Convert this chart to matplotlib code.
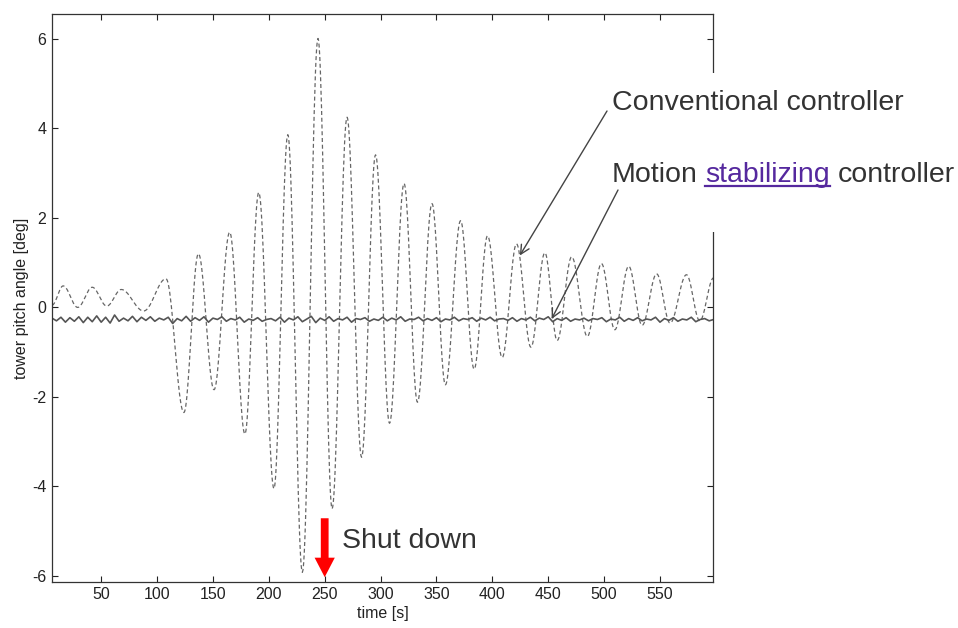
import numpy as np
import matplotlib.pyplot as plt
from matplotlib.patches import Rectangle, FancyArrowPatch
from matplotlib.lines import Line2D

plt.rcParams['font.family'] = ['Liberation Sans', 'DejaVu Sans']
plt.rcParams['axes.unicode_minus'] = False

# conventional controller: turning points of the oscillation (time [s], angle [deg])
conv_t = [6, 16, 29, 42, 55, 68, 88, 108, 124, 137, 151, 165, 178.6, 191, 204.6,
          217, 230, 244, 256.6, 270, 283, 295.5, 308, 321, 333, 346, 358, 371.6,
          383.7, 395.7, 408.8, 421.6, 434.5, 447, 458, 471, 485, 497.6, 509.6,
          522, 534, 547, 559, 573.7, 585.6, 598]
conv_v = [0.05, 0.48, 0.0, 0.45, 0.03, 0.40, -0.08, 0.64, -2.35, 1.20, -1.84, 1.68,
          -2.83, 2.57, -4.05, 3.86, -5.92, 6.01, -4.50, 4.25, -3.35, 3.41, -2.59,
          2.77, -2.12, 2.32, -1.73, 1.94, -1.38, 1.60, -1.12, 1.42, -0.89, 1.22,
          -0.74, 1.13, -0.65, 0.98, -0.50, 0.92, -0.40, 0.75, -0.35, 0.73, -0.30,
          0.66]

# motion stabilizing controller, read every 4 s from t=6 to t=598
stab_t = np.arange(6, 599, 4)
stab_v = [-0.24, -0.30, -0.22, -0.33, -0.23, -0.31, -0.21, -0.34, -0.22, -0.32,
          -0.19, -0.33, -0.22, -0.35, -0.17, -0.31, -0.24, -0.30, -0.20,
          -0.32, -0.22, -0.29, -0.21, -0.31, -0.24, -0.28, -0.22, -0.36, -0.25,
          -0.30, -0.20, -0.31, -0.23, -0.29, -0.21, -0.33, -0.24, -0.27,
          -0.21, -0.31, -0.25, -0.28, -0.22, -0.33, -0.26, -0.29, -0.23, -0.31,
          -0.27, -0.25, -0.30, -0.22, -0.33, -0.24, -0.28, -0.21, -0.32,
          -0.26, -0.20, -0.34, -0.24, -0.29, -0.21, -0.31, -0.25, -0.28, -0.22,
          -0.33, -0.25, -0.27, -0.23, -0.31, -0.26, -0.29, -0.22, -0.30,
          -0.24, -0.28, -0.21, -0.31, -0.26, -0.27, -0.22, -0.30, -0.25, -0.29,
          -0.23, -0.32, -0.26, -0.28, -0.22, -0.30, -0.25, -0.27, -0.23,
          -0.31, -0.24, -0.28, -0.22, -0.30, -0.26, -0.25, -0.29, -0.23, -0.31,
          -0.25, -0.28, -0.22, -0.30, -0.24, -0.27, -0.21, -0.32, -0.25,
          -0.29, -0.23, -0.31, -0.26, -0.28, -0.24, -0.30, -0.25, -0.27, -0.23,
          -0.32, -0.26, -0.28, -0.22, -0.31, -0.25, -0.29, -0.23, -0.30,
          -0.26, -0.28, -0.22, -0.33, -0.25, -0.29, -0.23, -0.31, -0.26, -0.28,
          -0.22, -0.32, -0.27, -0.25, -0.30, -0.27]

xticks = [50, 100, 150, 200, 250, 300, 350, 400, 450, 500, 550]
yticks = [-6, -4, -2, 0, 2, 4, 6]
shutdown_t = 250


def smooth_turns(tp, vp, n=24):
    # half-cosine between consecutive turning points
    ts, vs = [], []
    for t0, t1, v0, v1 in zip(tp[:-1], tp[1:], vp[:-1], vp[1:]):
        s = np.linspace(0, 1, n, endpoint=False)
        ts.extend(t0 + (t1 - t0) * s)
        vs.extend(v0 + (v1 - v0) * (1 - np.cos(np.pi * s)) / 2)
    ts.append(tp[-1])
    vs.append(vp[-1])
    return ts, vs


fig = plt.figure(figsize=(9.58, 6.28), dpi=100)
ax = fig.add_axes([52/958, 1-581.7/628, (713.3-52)/958, (581.7-14.3)/628])

ct, cv = smooth_turns(conv_t, conv_v)
ax.plot(ct, cv, color='#666666', lw=0.9, dashes=(3.2, 2.2))
ax.plot(stab_t, stab_v, color='#555555', lw=1.2)

ax.set_xlim(6, 597.7)
ax.set_ylim(-6.13, 6.55)
ax.set_xticks(xticks)
ax.set_yticks(yticks)
ax.tick_params(direction='in', length=4, width=0.8, top=True, right=True,
               labelsize=11.5, colors='#222222', pad=4)
for sp in ax.spines.values():
    sp.set_linewidth(0.9)
    sp.set_color('#333333')
ax.set_xlabel('time [s]', fontsize=11.5, color='#222222', labelpad=3)
ax.set_ylabel('tower pitch angle [deg]', fontsize=11.5, color='#222222', labelpad=2)

# white patch over the right spine behind the labels
box = Rectangle((600/958, 1-232/628), 358/958, (232-73)/628, transform=fig.transFigure,
                facecolor='white', edgecolor='none', zorder=2.8, clip_on=False)
ax.add_artist(box)

# shut down arrow
red = FancyArrowPatch((shutdown_t, -4.65), (shutdown_t, -6.09),
                      arrowstyle='simple,tail_width=0.2,head_width=0.52,head_length=0.5',
                      mutation_scale=28, color='#ff0000', lw=0, zorder=4, clip_on=False)
ax.add_patch(red)
fig.text(342/958, 1-548/628, 'Shut down', fontsize=20.5, color='#333333', va='baseline')

# labels with arrows
fig.text(612/958, 1-110/628, 'Conventional controller', fontsize=20.5,
         color='#333333', va='baseline', zorder=5)
fig.text(612/958, 1-181.7/628, 'Motion', fontsize=20.5, color='#333333',
         va='baseline', zorder=5)
fig.text(705/958, 1-181.7/628, 'stabilizing', fontsize=20.5, color='#55289e',
         va='baseline', zorder=5)
fig.text(838/958, 1-181.7/628, 'controller', fontsize=20.5, color='#333333',
         va='baseline', zorder=5)
fig.add_artist(Line2D([705/958, 830/958], [1-186/628, 1-186/628], color='#55289e',
                      lw=1.6, transform=fig.transFigure))

for head, tail in [((424.6, 1.16), (607/958, 1-111/628)),
                   ((453, -0.26), (618/958, 1-190/628))]:
    an = ax.annotate('', xy=head, xycoords='data', xytext=tail,
                     textcoords='figure fraction', annotation_clip=False,
                     arrowprops=dict(arrowstyle='->', color='#444444', lw=1.0,
                                     mutation_scale=16, shrinkA=0, shrinkB=0))
    an.set_zorder(5)

fig.savefig('out.png', dpi=100)
